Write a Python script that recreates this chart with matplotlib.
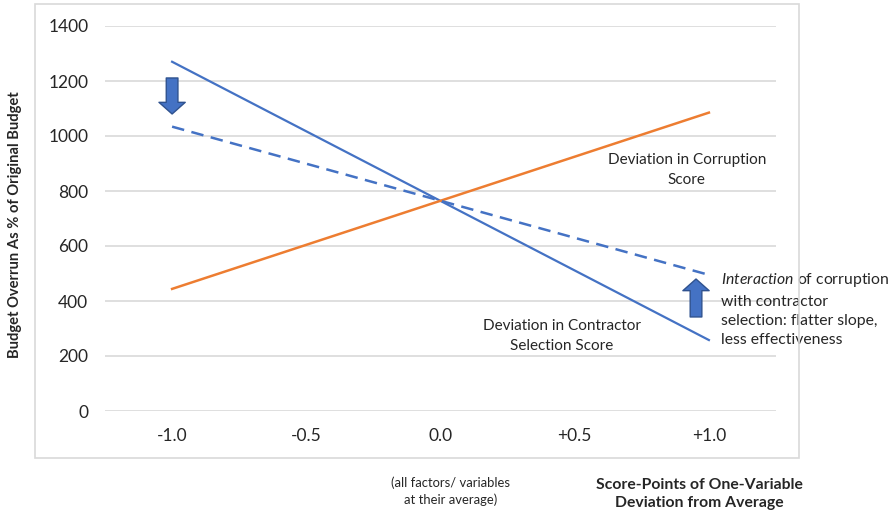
import matplotlib.pyplot as plt
from matplotlib.patches import Rectangle, FancyArrowPatch

plt.rcParams['font.family'] = ['Lato', 'DejaVu Sans']
plt.rcParams['mathtext.fontset'] = 'custom'
plt.rcParams['mathtext.rm'] = 'Lato'
plt.rcParams['mathtext.it'] = 'Lato:italic'

# score deviations and budget overrun at both ends
x_points = [-1.0, 1.0]
contractor = [1270, 258]
corruption = [444, 1085]
interaction = [1034, 495]

x_ticks = [-1.0, -0.5, 0.0, 0.5, 1.0]
x_labels = ['-1.0', '-0.5', '0.0', '+0.5', '+1.0']
y_ticks = [0, 200, 400, 600, 800, 1000, 1200, 1400]

blue = '#4472C4'
orange = '#ED7D31'
grid = '#D9D9D9'
txt = '#262626'

fig = plt.figure(figsize=(8.9, 5.14), dpi=100)
fig.patches.append(Rectangle((35 / 890, 1 - 458 / 514), 764 / 890, 454 / 514,
                             transform=fig.transFigure, fill=False,
                             edgecolor=grid, lw=1.2))

ax = fig.add_axes([105 / 890, 1 - 411 / 514, 671 / 890, 385 / 514])
ax.set_xlim(-1.25, 1.25)
ax.set_ylim(0, 1400)
for s in ax.spines.values():
    s.set_visible(False)
ax.set_yticks(y_ticks)
ax.set_xticks(x_ticks)
ax.set_xticklabels(x_labels)
ax.tick_params(length=0, labelsize=12.5, colors=txt, pad=12)
ax.tick_params(axis='y', pad=12)
ax.yaxis.grid(True, color=grid, lw=1.2)
ax.set_axisbelow(True)

ax.plot(x_points, contractor, color=blue, lw=1.6)
ax.plot(x_points, corruption, color=orange, lw=1.8)
ax.plot(x_points, interaction, color=blue, lw=1.8, linestyle=(0, (5, 3)))

# block arrows showing the shift of the slope
arrow_style = 'simple,head_length=0.6,head_width=1.35,tail_width=0.6'
for start, end in [((-1.0, 1211), (-1.0, 1080)), ((0.952, 342), (0.952, 480))]:
    ax.add_patch(FancyArrowPatch(start, end, arrowstyle=arrow_style,
                                 mutation_scale=14, shrinkA=0, shrinkB=0,
                                 facecolor=blue, edgecolor='#2F528F', lw=1))

ax.text(0.918, 876, 'Deviation in Corruption\nScore', ha='center', va='center',
        fontsize=11, color=txt, linespacing=1.5)
ax.text(0.452, 273, 'Deviation in Contractor\nSelection Score', ha='center',
        va='center', fontsize=11, color=txt, linespacing=1.5)
ax.text(1.045, (411 - 271) / 0.275,
        '$\\it{Interaction}$ of corruption\nwith contractor\n'
        'selection: flatter slope,\nless effectiveness',
        ha='left', va='top', fontsize=11.3, color=txt, linespacing=1.5,
        clip_on=False)

fig.text(15 / 890, 1 - 225 / 514, 'Budget Overrun As % of Original Budget',
         rotation=90, ha='center', va='center', fontsize=10.6,
         fontweight='bold', color=txt)
fig.text(451 / 890, 1 - 491 / 514, '(all factors/ variables\nat their average)',
         ha='center', va='center', fontsize=9.4, color=txt, linespacing=1.45)
fig.text(699 / 890, 1 - 494 / 514, 'Score-Points of One-Variable\nDeviation from Average',
         ha='center', va='center', fontsize=11.3, fontweight='bold', color=txt,
         linespacing=1.35)

fig.savefig('out.png', dpi=100)
